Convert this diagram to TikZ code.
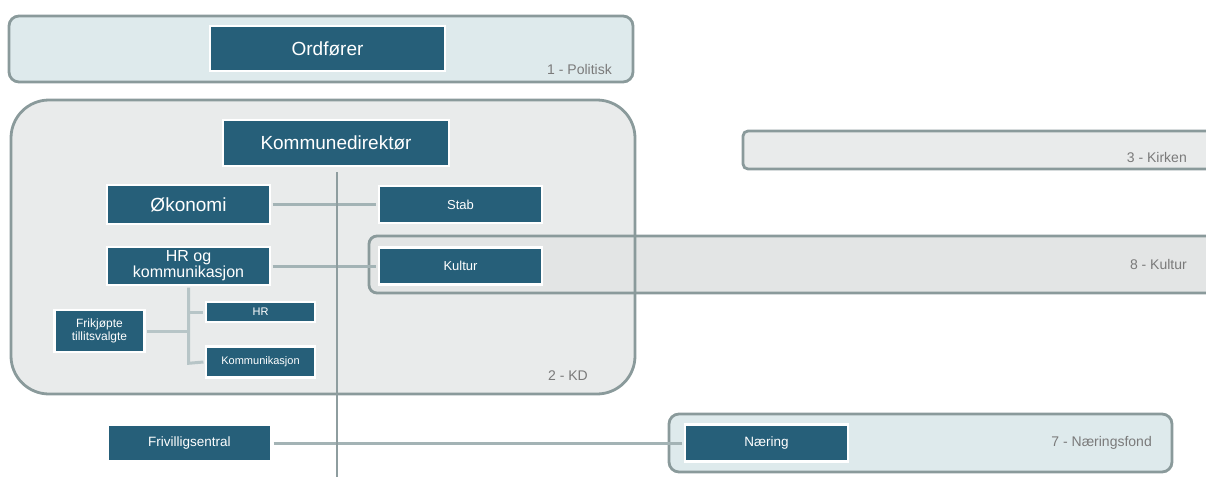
\documentclass[tikz,border=0pt]{standalone}
\usepackage{fontspec}
\setmainfont{Liberation Sans}
\definecolor{teal}{HTML}{265F79}
\definecolor{grpborder}{HTML}{8A9A9B}
\definecolor{bluefill}{HTML}{DEEAEC}
\definecolor{grayfill}{HTML}{E9EBEB}
\definecolor{bandfill}{HTML}{E3E5E5}
\definecolor{conn}{HTML}{A3B3B5}
\definecolor{lightconn}{HTML}{B7C5C7}
\definecolor{vline}{HTML}{8E9D9F}
\definecolor{lbl}{HTML}{7A7A7A}
\tikzset{
  darkbox/.style={fill=teal, draw=white, line width=2.5pt, text=white, inner sep=0pt, align=center},
  grp/.style={draw=grpborder, line width=2.8pt},
  grplabel/.style={text=lbl, font=\fontsize{14}{16}\selectfont, anchor=east, inner sep=0pt},
  link/.style={draw=conn, line width=3pt, shorten <=1.3pt, shorten >=1.3pt},
  treelink/.style={draw=lightconn, line width=3pt},
  mainline/.style={draw=vline, line width=2.2pt}
}
\begin{document}
\begin{tikzpicture}[x=1pt, y=-1pt]
\useasboundingbox (0,0) rectangle (1206,477);
\begin{scope}
\clip (0,0) rectangle (1206,477);
% 1 - Politisk
\draw[grp, fill=bluefill, rounded corners=10pt] (9,16) rectangle (633,82);
\node[grplabel] (lpol) at (612,69) {1 - Politisk};
% 2 - KD fill
\fill[grayfill, rounded corners=38pt] (11,100) rectangle (635,394);
% 3 - Kirken
\draw[grp, fill=grayfill, rounded corners=5pt] (743,131) rectangle (1230,169);
\node[grplabel] (lkirk) at (1187,157) {3 - Kirken};
% 8 - Kultur band
\draw[grp, fill=bandfill, rounded corners=8pt] (369,236) rectangle (1230,293);
\node[grplabel] (lkult) at (1187,264) {8 - Kultur};
% 2 - KD border
\draw[grp, rounded corners=38pt] (11,100) rectangle (635,394);
\node[grplabel] (lkd) at (588,376) {2 - KD};
% 7 - Næringsfond
\draw[grp, fill=bluefill, rounded corners=10pt] (669,414) rectangle (1172,472);
\node[grplabel] (lnf) at (1152,443) {7 - Næringsfond};
\end{scope}

% nodes
\node[darkbox, minimum width=235pt, minimum height=45pt, font=\fontsize{19}{22}\selectfont] (ordf) at (327.5,48.5) {Ordfører};
\node[darkbox, minimum width=226pt, minimum height=46pt, font=\fontsize{19}{22}\selectfont] (komdir) at (336,143) {Kommunedirektør};
\node[darkbox, minimum width=163pt, minimum height=39pt, font=\fontsize{19}{22}\selectfont] (okon) at (188.5,204.5) {Økonomi};
\node[darkbox, minimum width=163pt, minimum height=37pt, font=\fontsize{13}{15}\selectfont] (stab) at (460.5,204.5) {Stab};
\node[darkbox, minimum width=163pt, minimum height=38pt, font=\fontsize{16}{16}\selectfont] (hrk) at (188.5,266) {HR og\\kommunikasjon};
\node[darkbox, minimum width=163pt, minimum height=37pt, font=\fontsize{13}{15}\selectfont] (kult) at (460.5,266) {Kultur};
\node[darkbox, minimum width=109pt, minimum height=20pt, font=\fontsize{11}{13}\selectfont] (hr) at (260.5,312) {HR};
\node[darkbox, minimum width=109pt, minimum height=31pt, font=\fontsize{11}{13}\selectfont] (komm) at (260.5,362) {Kommunikasjon};
\node[darkbox, minimum width=90pt, minimum height=42pt, font=\fontsize{12}{13}\selectfont] (frik) at (99.5,331) {Frikjøpte\\tillitsvalgte};
\node[darkbox, minimum width=163pt, minimum height=36pt, font=\fontsize{13.5}{15}\selectfont] (friv) at (189.5,443) {Frivilligsentral};
\node[darkbox, minimum width=163pt, minimum height=37pt, font=\fontsize{13.5}{15}\selectfont] (naer) at (766.5,443) {Næring};

% connectors
\coordinate (vbot) at (337,477);
\draw[link] (okon.east) -- (stab.west);
\draw[link] (hrk.east) -- (kult.west);
\draw[link] (friv.east) -- (naer.west);
\draw[mainline] ([yshift=-5pt, xshift=1pt]komdir.south) -- (vbot);
\draw[treelink] ([yshift=-1.3pt]hrk.south) -- ([yshift=-1.3pt]hrk.south |- komm.west) -- ([xshift=-1.3pt]komm.west);
\draw[treelink] (hrk.south |- hr.west) -- ([xshift=-1.3pt]hr.west);
\draw[treelink] ([xshift=1.3pt]frik.east) -- (frik.east -| hrk.south);
\end{tikzpicture}
\end{document}
